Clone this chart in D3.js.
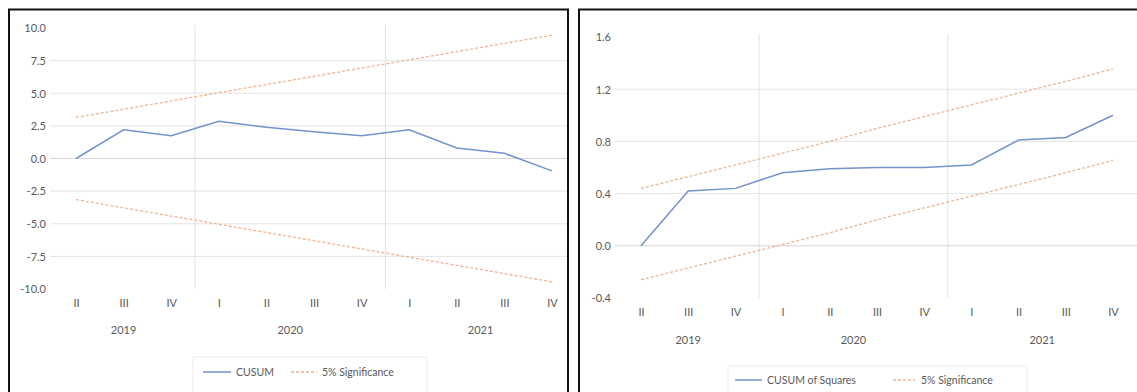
<!DOCTYPE html>
<html>
<head>
<meta charset="utf-8">
<script src="https://cdn.jsdelivr.net/npm/d3@7/dist/d3.min.js"></script>
<style>
  html, body { margin: 0; padding: 0; background: #fff; }
  svg { display: block; }
  text { font-family: Lato, "Open Sans", "Liberation Sans", sans-serif; fill: #595959; }
</style>
</head>
<body>
<svg id="chart" width="1137" height="392"></svg>
<script>
// Quarterly categories and their year groups
const quarters = ["II", "III", "IV", "I", "II", "III", "IV", "I", "II", "III", "IV"];
const years = [
  { label: "2019", from: 0, to: 2 },
  { label: "2020", from: 3, to: 6 },
  { label: "2021", from: 7, to: 10 }
];

// CUSUM test
const cusum      = [0.0, 2.2, 1.75, 2.85, 2.4, 2.05, 1.75, 2.2, 0.8, 0.4, -0.95];
const cusumUpper = [3.15, 3.78, 4.41, 5.04, 5.67, 6.30, 6.93, 7.56, 8.19, 8.82, 9.45];
const cusumLower = [-3.15, -3.78, -4.41, -5.04, -5.67, -6.30, -6.93, -7.56, -8.19, -8.82, -9.45];
const cusumTicks = [-10, -7.5, -5, -2.5, 0, 2.5, 5, 7.5, 10];

// CUSUM of squares test
const cusumSq      = [0.0, 0.42, 0.44, 0.56, 0.59, 0.60, 0.60, 0.62, 0.81, 0.83, 1.0];
const cusumSqUpper = [0.44, 0.53, 0.62, 0.71, 0.80, 0.90, 0.99, 1.08, 1.17, 1.26, 1.355];
const cusumSqLower = [-0.26, -0.17, -0.08, 0.01, 0.10, 0.20, 0.29, 0.38, 0.47, 0.56, 0.655];
const cusumSqTicks = [-0.4, 0, 0.4, 0.8, 1.2, 1.6];

const svg = d3.select("#chart");
const lineColor = "#7393cb";
const bandColor = "#f0b48e";
const fmt = d => d3.format(".1f")(d).replace("\u2212", "-");

function panel(cfg) {
  const g = svg.append("g");
  const clipId = "clip" + cfg.id;
  svg.append("defs").append("clipPath").attr("id", clipId)
    .append("rect").attr("x", cfg.frame[0]).attr("y", cfg.frame[1])
    .attr("width", cfg.frame[2] - cfg.frame[0]).attr("height", 392 - cfg.frame[1]);

  const inner = g.append("g").attr("clip-path", `url(#${clipId})`);

  const x = d3.scalePoint().domain(d3.range(quarters.length))
    .range(cfg.xRange).padding(0.5);
  const step = x.step();
  const y = d3.scaleLinear().domain(cfg.yDomain).range(cfg.yRange);

  // horizontal gridlines
  inner.append("g").selectAll("line")
    .data(cfg.ticks.filter(t => t !== cfg.yDomain[0] && t !== cfg.yDomain[1]))
    .join("line")
    .attr("x1", cfg.gridX[0]).attr("x2", cfg.gridX[1])
    .attr("y1", d => y(d)).attr("y2", d => y(d))
    .attr("stroke", d => d === 0 ? "#d4d4d4" : "#e4e4e4")
    .attr("stroke-width", 1);

  // year separators
  inner.append("g").selectAll("line")
    .data(years.slice(1))
    .join("line")
    .attr("x1", d => x(d.from) - step / 2).attr("x2", d => x(d.from) - step / 2)
    .attr("y1", y(cfg.yDomain[1]) - 3).attr("y2", y(cfg.yDomain[0]))
    .attr("stroke", "#e2e2e2").attr("stroke-width", 1);

  // y axis labels
  const yAxis = d3.axisLeft(y).tickValues(cfg.ticks).tickSize(0).tickPadding(0)
    .tickFormat(fmt);
  const ya = g.append("g").attr("transform", `translate(${cfg.yLabelX},0)`).call(yAxis);
  ya.select(".domain").remove();
  ya.selectAll("text").attr("font-size", 11).attr("fill", "#595959")
    .style("font-family", "Lato, 'Open Sans', sans-serif").attr("dy", "0.35em");

  // category labels
  const xAxis = d3.axisBottom(x).tickSize(0).tickPadding(0).tickFormat(i => quarters[i]);
  const xa = inner.append("g").attr("transform", `translate(0,${cfg.qY})`).call(xAxis);
  xa.select(".domain").remove();
  xa.selectAll("text").attr("font-size", 11).attr("fill", "#595959")
    .style("font-family", "Lato, 'Open Sans', sans-serif").attr("dy", "0");

  inner.append("g").selectAll("text")
    .data(years).join("text")
    .attr("x", d => (x(d.from) + x(d.to)) / 2)
    .attr("y", cfg.yearY)
    .attr("text-anchor", "middle")
    .attr("font-size", 11)
    .text(d => d.label);

  // series
  const line = d3.line().x((d, i) => x(i)).y(d => y(d));
  inner.append("path").datum(cfg.upper).attr("d", line)
    .attr("fill", "none").attr("stroke", bandColor).attr("stroke-width", 1.3)
    .attr("stroke-dasharray", "3,2");
  inner.append("path").datum(cfg.lower).attr("d", line)
    .attr("fill", "none").attr("stroke", bandColor).attr("stroke-width", 1.3)
    .attr("stroke-dasharray", "3,2");
  inner.append("path").datum(cfg.values).attr("d", line)
    .attr("fill", "none").attr("stroke", lineColor).attr("stroke-width", 1.5);

  // legend
  const lg = inner.append("g");
  lg.append("rect")
    .attr("x", cfg.legend.box[0]).attr("y", cfg.legend.box[1])
    .attr("width", cfg.legend.box[2] - cfg.legend.box[0])
    .attr("height", cfg.legend.box[3] - cfg.legend.box[1])
    .attr("fill", "none").attr("stroke", "#ececec");
  const ly = cfg.legend.y;
  lg.append("line").attr("x1", cfg.legend.s1[0]).attr("x2", cfg.legend.s1[1])
    .attr("y1", ly).attr("y2", ly).attr("stroke", lineColor).attr("stroke-width", 1.5);
  lg.append("text").attr("x", cfg.legend.t1).attr("y", ly + 4)
    .attr("font-size", 10.5).text(cfg.legend.name);
  lg.append("line").attr("x1", cfg.legend.s2[0]).attr("x2", cfg.legend.s2[1])
    .attr("y1", ly).attr("y2", ly).attr("stroke", bandColor).attr("stroke-width", 1.3)
    .attr("stroke-dasharray", "3,2");
  lg.append("text").attr("x", cfg.legend.t2).attr("y", ly + 4)
    .attr("font-size", 10.5).text("5% Significance");

  // frame
  const [fx0, fy0, fx1] = cfg.frame;
  const path = cfg.rightEdge
    ? `M${fx0},392V${fy0}H${fx1}V392`
    : `M${fx0},392V${fy0}H${fx1}`;
  g.append("path").attr("d", path).attr("fill", "none")
    .attr("stroke", "#111").attr("stroke-width", 2);
}

panel({
  id: 1,
  frame: [9, 9.5, 568],
  rightEdge: true,
  xRange: [52.2, 575.8],
  yDomain: [-10, 10],
  yRange: [289, 28],
  ticks: cusumTicks,
  gridX: [50, 568],
  yLabelX: 46,
  qY: 307,
  yearY: 334,
  values: cusum, upper: cusumUpper, lower: cusumLower,
  legend: {
    box: [193, 357, 427, 394], y: 372,
    s1: [203, 231], t1: 236, name: "CUSUM",
    s2: [291, 317], t2: 322
  }
});

panel({
  id: 2,
  frame: [579, 9.5, 1140],
  rightEdge: false,
  xRange: [617.4, 1136.6],
  yDomain: [-0.4, 1.6],
  yRange: [298, 37],
  ticks: cusumSqTicks,
  gridX: [615, 1137],
  yLabelX: 611,
  qY: 316,
  yearY: 344,
  values: cusumSq, upper: cusumSqUpper, lower: cusumSqLower,
  legend: {
    box: [728, 366, 1027, 394], y: 380,
    s1: [735, 762], t1: 767, name: "CUSUM of Squares",
    s2: [893, 915], t2: 921
  }
});
</script>
</body>
</html>
